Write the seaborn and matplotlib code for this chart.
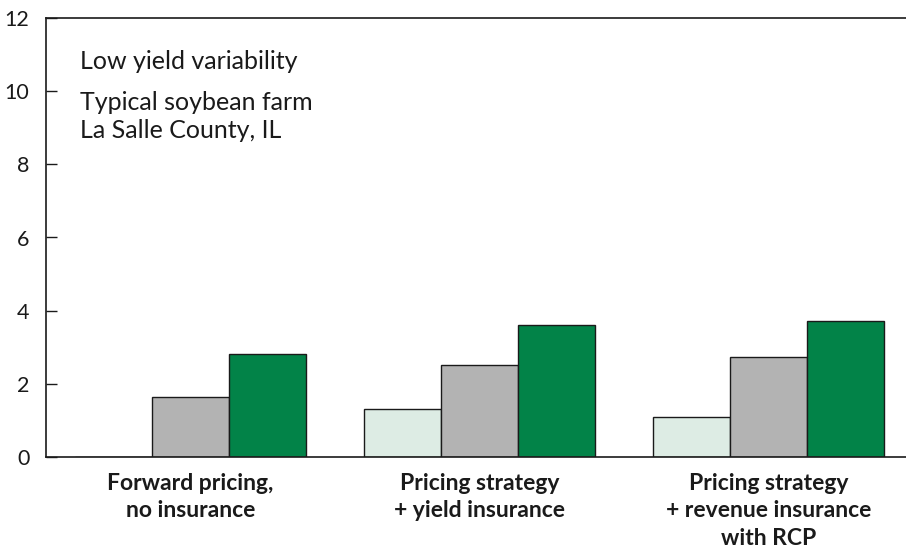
import matplotlib
matplotlib.use("Agg")
import matplotlib.pyplot as plt
import seaborn as sns
import pandas as pd

# Strategy groups along the x axis
categories = [
    "Forward pricing,\nno insurance",
    "Pricing strategy\n+ yield insurance",
    "Pricing strategy\n+ revenue insurance\nwith RCP",
]
# Three series per strategy group
series_names = ["Series 1", "Series 2", "Series 3"]
values_s1 = [0.0, 1.31, 1.09]
values_s2 = [1.63, 2.51, 2.73]
values_s3 = [2.81, 3.60, 3.71]
y_ticks = [0, 2, 4, 6, 8, 10, 12]

colors = ["#ddece4", "#b3b3b3", "#028348"]

rows = []
for name, vals in zip(series_names, [values_s1, values_s2, values_s3]):
    for cat, v in zip(categories, vals):
        rows.append({"category": cat, "series": name, "value": v})
df = pd.DataFrame(rows)

sns.set_style("white")
plt.rcParams["font.family"] = ["Lato", "DejaVu Sans"]

fig = plt.figure(figsize=(9.06, 5.52), dpi=100)
ax = fig.add_axes([46 / 906, 1 - 456.7 / 552, 1 - 46 / 906, (456.7 - 18.3) / 552])

sns.barplot(
    data=df, x="category", y="value", hue="series",
    order=categories, hue_order=series_names,
    palette=colors, width=0.8, edgecolor="#1a1a1a", linewidth=1.0,
    saturation=1, legend=False, ax=ax,
)

ax.set_ylim(0, 12)
ax.set_xlim(-0.5, 2.476)
ax.set_yticks(y_ticks)
ax.set_xlabel("")
ax.set_ylabel("")

for side in ["left", "top", "bottom"]:
    ax.spines[side].set_visible(True)
    ax.spines[side].set_color("#1a1a1a")
    ax.spines[side].set_linewidth(1.2)
ax.spines["right"].set_visible(False)

ax.tick_params(axis="y", direction="in", length=8, width=1, color="#1a1a1a",
               labelsize=15.5, pad=12, left=True)
ax.tick_params(axis="x", length=0, pad=12)
for lbl in ax.get_xticklabels():
    lbl.set_fontsize(16.5)
    lbl.set_fontweight("bold")
    lbl.set_linespacing(1.36)
    lbl.set_color("#1a1a1a")
for lbl in ax.get_yticklabels():
    lbl.set_color("#1a1a1a")

note_lines = [("Low yield variability", 69), ("Typical soybean farm", 110),
              ("La Salle County, IL", 138)]
for txt, y_px in note_lines:
    fig.text(80 / 906, 1 - y_px / 552, txt, fontsize=18, color="#1a1a1a",
             va="baseline", ha="left")

fig.savefig("out.png", dpi=100)
